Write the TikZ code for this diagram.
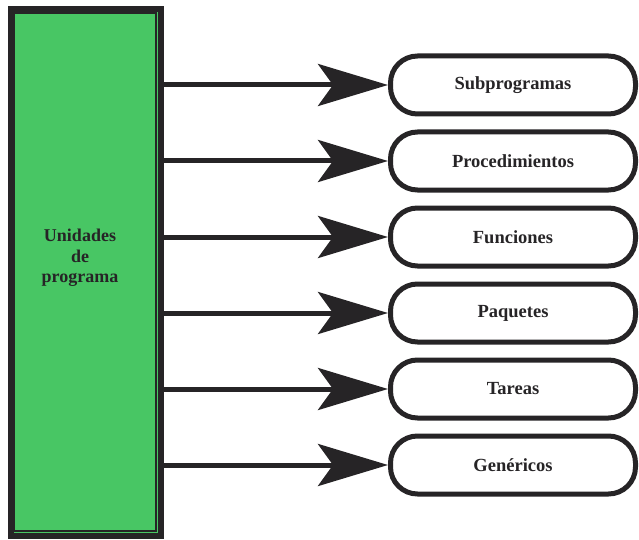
\documentclass[tikz,border=0pt]{standalone}
\usepackage{fontspec}
\setmainfont{Liberation Serif}
\usetikzlibrary{arrows.meta}
\definecolor{ink}{RGB}{38,36,38}
\definecolor{boxgreen}{RGB}{72,198,100}
\begin{document}
\begin{tikzpicture}[x=1pt,y=-1pt,
  unit/.style={rectangle, rounded corners=27pt, draw=ink, line width=5pt,
    minimum width=245pt, minimum height=58pt, inner sep=0pt,
    font=\fontsize{18.5}{20}\selectfont\bfseries, text=ink, fill=white},
  arr/.style={draw=ink, line width=5pt, -{Stealth[length=70pt,width=42pt,inset=15pt]}}]
\useasboundingbox (0,0) rectangle (639,540);
\node[draw=ink, line width=6pt, fill=boxgreen, minimum width=150pt,
  minimum height=527pt, inner sep=0pt] (L) at (86,272.5) {};
\draw[ink, line width=2pt] ([shift={(6pt,-7pt)}]L.north west) rectangle ([shift={(-8pt,8pt)}]L.south east);
\node[font=\fontsize{18}{20.5}\selectfont\bfseries, text=ink, align=center] (T) at (80,258) {Unidades\\de\\programa};
\node[unit] (S1) at (513,85)  {Subprogramas};
\node[unit] (S2) at (513,161) {Procedimientos};
\node[unit] (S3) at (513,237) {Funciones};
\node[unit] (S4) at (513,313) {Paquetes};
\node[unit] (S5) at (513,389) {Tareas};
\node[unit] (S6) at (513,465) {Genéricos};
\foreach \n in {S1,S2,S3,S4,S5,S6}
  \draw[arr] (L.east |- \n.west) -- (\n.west);
\end{tikzpicture}
\end{document}
